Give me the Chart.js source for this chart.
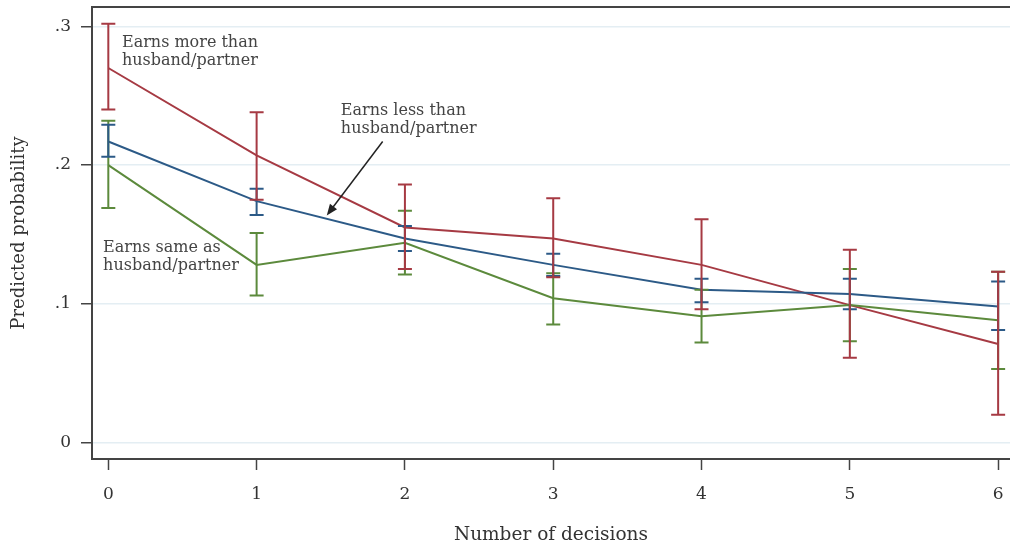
<!DOCTYPE html>
<html>
<head>
<meta charset="utf-8">
<script src="https://cdn.jsdelivr.net/npm/chart.js@4.4.0/dist/chart.umd.min.js"></script>
<style>
  html, body { margin: 0; padding: 0; background: #fff; }
  #wrap { width: 1010px; height: 553px; }
</style>
</head>
<body>
<div id="wrap"><canvas id="chart"></canvas></div>
<script>
// values
const decisions = [0, 1, 2, 3, 4, 5, 6];

const moreMean = [0.270, 0.207, 0.155, 0.147, 0.128, 0.099, 0.071];
const moreLow  = [0.240, 0.175, 0.125, 0.119, 0.096, 0.061, 0.020];
const moreHigh = [0.302, 0.238, 0.186, 0.176, 0.161, 0.139, 0.123];

const lessMean = [0.217, 0.174, 0.147, 0.128, 0.110, 0.107, 0.098];
const lessLow  = [0.206, 0.164, 0.138, 0.120, 0.101, 0.096, 0.081];
const lessHigh = [0.229, 0.183, 0.156, 0.136, 0.118, 0.118, 0.116];

const sameMean = [0.200, 0.128, 0.144, 0.104, 0.091, 0.099, 0.088];
const sameLow  = [0.169, 0.106, 0.121, 0.085, 0.072, 0.073, 0.053];
const sameHigh = [0.232, 0.151, 0.167, 0.122, 0.110, 0.125, 0.123];

const yTickValues = [0, 0.1, 0.2, 0.3];
const yTickLabels = ["0", ".1", ".2", ".3"];

// labels placed in data units
const notes = [
  { lines: ["Earns more than", "husband/partner"], x: 0.092, y: 0.288 },
  { lines: ["Earns less than", "husband/partner"], x: 1.568, y: 0.239 },
  { lines: ["Earns same as", "husband/partner"], x: -0.035, y: 0.140 }
];
const arrowFrom = { x: 1.85, y: 0.217 };
const arrowTo = { x: 1.473, y: 0.1637 };

const RED = "#a63a43";
const BLUE = "#2c5a87";
const GREEN = "#5c8a3c";
const FONT = "'DejaVu Serif', 'Liberation Serif', serif";

function series(label, mean, low, high, color) {
  return {
    label: label,
    data: decisions.map((d, i) => ({ x: d, y: mean[i] })),
    low: low,
    high: high,
    borderColor: color,
    borderWidth: 2,
    pointRadius: 0,
    fill: false,
    tension: 0
  };
}

const extras = {
  id: "extras",
  afterDatasetsDraw(chart) {
    const ctx = chart.ctx;
    const xs = chart.scales.x, ys = chart.scales.y;
    const area = chart.chartArea;

    // error bars
    chart.data.datasets.forEach(ds => {
      ctx.save();
      ctx.strokeStyle = ds.borderColor;
      ctx.lineWidth = 2;
      decisions.forEach((d, i) => {
        const px = xs.getPixelForValue(d);
        const lo = ys.getPixelForValue(ds.low[i]);
        const hi = ys.getPixelForValue(ds.high[i]);
        ctx.beginPath();
        ctx.moveTo(px, lo); ctx.lineTo(px, hi);
        ctx.moveTo(px - 7, lo); ctx.lineTo(px + 7, lo);
        ctx.moveTo(px - 7, hi); ctx.lineTo(px + 7, hi);
        ctx.stroke();
      });
      ctx.restore();
    });

    // top frame line
    ctx.save();
    ctx.strokeStyle = "#444";
    ctx.lineWidth = 2;
    ctx.beginPath();
    ctx.moveTo(area.left - 1, area.top);
    ctx.lineTo(area.right, area.top);
    ctx.stroke();

    // text labels
    ctx.fillStyle = "#444";
    ctx.font = "16px " + FONT;
    ctx.textAlign = "left";
    ctx.textBaseline = "middle";
    notes.forEach(n => {
      const px = xs.getPixelForValue(n.x);
      const py = ys.getPixelForValue(n.y);
      n.lines.forEach((t, k) => ctx.fillText(t, px, py + k * 18));
    });

    // arrow
    const x1 = xs.getPixelForValue(arrowFrom.x), y1 = ys.getPixelForValue(arrowFrom.y);
    const x2 = xs.getPixelForValue(arrowTo.x), y2 = ys.getPixelForValue(arrowTo.y);
    const ang = Math.atan2(y2 - y1, x2 - x1);
    const head = 12, half = 0.38;
    ctx.strokeStyle = "#222";
    ctx.fillStyle = "#222";
    ctx.lineWidth = 1.5;
    ctx.beginPath();
    ctx.moveTo(x1, y1);
    ctx.lineTo(x2 - Math.cos(ang) * head * 0.8, y2 - Math.sin(ang) * head * 0.8);
    ctx.stroke();
    ctx.beginPath();
    ctx.moveTo(x2, y2);
    ctx.lineTo(x2 - head * Math.cos(ang - half), y2 - head * Math.sin(ang - half));
    ctx.lineTo(x2 - head * Math.cos(ang + half), y2 - head * Math.sin(ang + half));
    ctx.closePath();
    ctx.fill();
    ctx.restore();
  }
};

new Chart(document.getElementById("chart").getContext("2d"), {
  type: "line",
  data: {
    datasets: [
      series("Earns same as husband/partner", sameMean, sameLow, sameHigh, GREEN),
      series("Earns less than husband/partner", lessMean, lessLow, lessHigh, BLUE),
      series("Earns more than husband/partner", moreMean, moreLow, moreHigh, RED)
    ]
  },
  plugins: [extras],
  options: {
    responsive: true,
    maintainAspectRatio: false,
    animation: false,
    layout: { padding: { top: 7, right: 0, left: 0, bottom: 0 } },
    plugins: {
      legend: { display: false },
      tooltip: { enabled: false }
    },
    scales: {
      x: {
        type: "linear",
        min: -0.11,
        max: 6.08,
        afterBuildTicks: s => { s.ticks = decisions.map(v => ({ value: v })); },
        afterFit: s => { s.height = 94; s.paddingLeft = 0; s.paddingRight = 0; },
        ticks: {
          padding: 14,
          color: "#333",
          font: { family: FONT, size: 17 },
          callback: v => String(v)
        },
        grid: {
          drawOnChartArea: false,
          drawTicks: true,
          tickLength: 11,
          tickColor: "#444",
          tickWidth: 1.5
        },
        border: { display: true, color: "#444", width: 2 },
        title: {
          display: true,
          text: "Number of decisions",
          color: "#333",
          font: { family: FONT, size: 18.5 },
          padding: { top: 0, bottom: 7 }
        }
      },
      y: {
        min: -0.012,
        max: 0.314,
        afterBuildTicks: s => { s.ticks = yTickValues.map(v => ({ value: v })); },
        afterFit: s => { s.width = 92; s.paddingTop = 0; s.paddingBottom = 0; },
        ticks: {
          padding: 10,
          color: "#333",
          font: { family: FONT, size: 17 },
          callback: v => yTickLabels[yTickValues.indexOf(v)]
        },
        grid: {
          color: "#e4eef3",
          lineWidth: 1.5,
          drawTicks: true,
          tickLength: 11,
          tickColor: "#444",
          tickWidth: 1.5
        },
        border: { display: true, color: "#444", width: 2 },
        title: {
          display: true,
          text: "Predicted probability",
          color: "#333",
          font: { family: FONT, size: 18 },
          padding: { top: 9, bottom: 0 }
        }
      }
    }
  }
});
</script>
</body>
</html>
